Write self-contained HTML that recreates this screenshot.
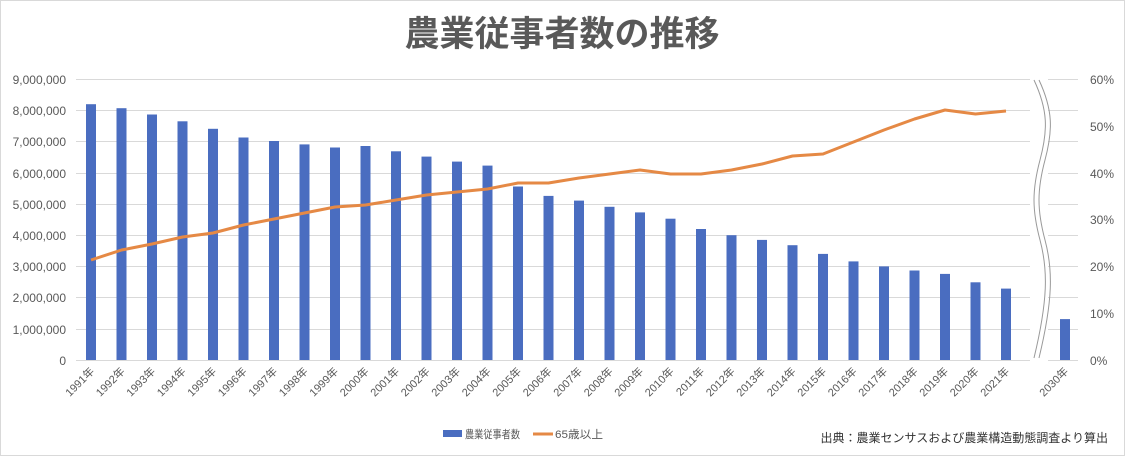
<!DOCTYPE html>
<html><head><meta charset="utf-8"><style>
body{margin:0;background:#fff}
svg{display:block;font-family:"Liberation Sans","Noto Sans CJK JP",sans-serif}
.ax{font-size:12px;fill:#595959}
.xl{font-size:11px;fill:#595959}
</style></head><body>
<svg width="1125" height="456" viewBox="0 0 1125 456">
<rect x="0.5" y="0.5" width="1124" height="455" fill="#fff" stroke="#d9d9d9"/>
<text x="562" y="46" text-anchor="middle" font-size="35" font-weight="bold" fill="#595959" font-family="'Noto Sans CJK JP',sans-serif">農業従事者数の推移</text>
<g stroke="#d9d9d9" stroke-width="1">
<line x1="76" x2="1078" y1="79.5" y2="79.5"/><line x1="76" x2="1078" y1="110.5" y2="110.5"/><line x1="76" x2="1078" y1="141.5" y2="141.5"/><line x1="76" x2="1078" y1="173.5" y2="173.5"/><line x1="76" x2="1078" y1="204.5" y2="204.5"/><line x1="76" x2="1078" y1="235.5" y2="235.5"/><line x1="76" x2="1078" y1="266.5" y2="266.5"/><line x1="76" x2="1078" y1="297.5" y2="297.5"/><line x1="76" x2="1078" y1="329.5" y2="329.5"/><line x1="76" x2="1078" y1="360.5" y2="360.5"/>
</g>
<g class="ax" text-anchor="end">
<text x="66" y="84">9,000,000</text><text x="66" y="115">8,000,000</text><text x="66" y="146">7,000,000</text><text x="66" y="178">6,000,000</text><text x="66" y="209">5,000,000</text><text x="66" y="240">4,000,000</text><text x="66" y="271">3,000,000</text><text x="66" y="302">2,000,000</text><text x="66" y="334">1,000,000</text><text x="66" y="365">0</text>
</g>
<g class="ax">
<text x="1090" y="84">60%</text><text x="1090" y="131">50%</text><text x="1090" y="178">40%</text><text x="1090" y="224">30%</text><text x="1090" y="271">20%</text><text x="1090" y="318">10%</text><text x="1090" y="365">0%</text>
</g>
<g fill="#4a6dc0">
<rect x="86" y="104.2" width="10" height="255.8"/>
<rect x="116.5" y="108.2" width="10" height="251.8"/>
<rect x="147" y="114.5" width="10" height="245.5"/>
<rect x="177.5" y="121.3" width="10" height="238.7"/>
<rect x="208" y="128.8" width="10" height="231.2"/>
<rect x="238.5" y="137.5" width="10" height="222.5"/>
<rect x="269" y="141" width="10" height="219"/>
<rect x="299.5" y="144.4" width="10" height="215.6"/>
<rect x="330" y="147.5" width="10" height="212.5"/>
<rect x="360.5" y="146" width="10" height="214"/>
<rect x="391" y="151.3" width="10" height="208.7"/>
<rect x="421.5" y="156.6" width="10" height="203.4"/>
<rect x="452" y="161.6" width="10" height="198.4"/>
<rect x="482.5" y="165.6" width="10" height="194.4"/>
<rect x="513" y="186.5" width="10" height="173.5"/>
<rect x="543.5" y="195.9" width="10" height="164.1"/>
<rect x="574" y="200.6" width="10" height="159.4"/>
<rect x="604.5" y="206.8" width="10" height="153.2"/>
<rect x="635" y="212.4" width="10" height="147.6"/>
<rect x="665.5" y="218.7" width="10" height="141.3"/>
<rect x="696" y="229" width="10" height="131"/>
<rect x="726.5" y="235.2" width="10" height="124.8"/>
<rect x="757" y="239.9" width="10" height="120.1"/>
<rect x="787.5" y="245.2" width="10" height="114.8"/>
<rect x="818" y="253.9" width="10" height="106.1"/>
<rect x="848.5" y="261.4" width="10" height="98.6"/>
<rect x="879" y="266.4" width="10" height="93.6"/>
<rect x="909.5" y="270.5" width="10" height="89.5"/>
<rect x="940" y="273.9" width="10" height="86.1"/>
<rect x="970.5" y="282.3" width="10" height="77.7"/>
<rect x="1001" y="288.6" width="10" height="71.4"/>
<rect x="1060" y="319.1" width="10" height="40.9"/>
</g>
<polyline fill="none" stroke="#e58945" stroke-width="3" stroke-linejoin="round" points="91,260 121.5,250 152,244 182.5,237 213,233 243.5,225 274,219 304.5,213 335,207 365.5,205 396,200 426.5,195 457,192 487.5,189 518,183 548.5,183 579,178 609.5,174 640,170 670.5,174 701,174 731.5,170 762,164 792.5,156 823,154 853.5,142 884,130 914.5,119 945,110 975.5,114 1006,111"/>
<rect x="1030" y="78" width="18" height="284" fill="#fff"/>
<path d="M1034,80 C1048,110 1048,130 1040,160 C1032,190 1032,210 1040,240 C1048,270 1048,300 1034,358" fill="none" stroke="#999" stroke-width="1"/>
<path d="M1039,80 C1053,110 1053,130 1045,160 C1037,190 1037,210 1045,240 C1053,270 1053,300 1039,358" fill="none" stroke="#999" stroke-width="1"/>
<g class="xl" text-anchor="end">
<text transform="translate(95,372) rotate(-45)">1991年</text>
<text transform="translate(125.5,372) rotate(-45)">1992年</text>
<text transform="translate(156,372) rotate(-45)">1993年</text>
<text transform="translate(186.5,372) rotate(-45)">1994年</text>
<text transform="translate(217,372) rotate(-45)">1995年</text>
<text transform="translate(247.5,372) rotate(-45)">1996年</text>
<text transform="translate(278,372) rotate(-45)">1997年</text>
<text transform="translate(308.5,372) rotate(-45)">1998年</text>
<text transform="translate(339,372) rotate(-45)">1999年</text>
<text transform="translate(369.5,372) rotate(-45)">2000年</text>
<text transform="translate(400,372) rotate(-45)">2001年</text>
<text transform="translate(430.5,372) rotate(-45)">2002年</text>
<text transform="translate(461,372) rotate(-45)">2003年</text>
<text transform="translate(491.5,372) rotate(-45)">2004年</text>
<text transform="translate(522,372) rotate(-45)">2005年</text>
<text transform="translate(552.5,372) rotate(-45)">2006年</text>
<text transform="translate(583,372) rotate(-45)">2007年</text>
<text transform="translate(613.5,372) rotate(-45)">2008年</text>
<text transform="translate(644,372) rotate(-45)">2009年</text>
<text transform="translate(674.5,372) rotate(-45)">2010年</text>
<text transform="translate(705,372) rotate(-45)">2011年</text>
<text transform="translate(735.5,372) rotate(-45)">2012年</text>
<text transform="translate(766,372) rotate(-45)">2013年</text>
<text transform="translate(796.5,372) rotate(-45)">2014年</text>
<text transform="translate(827,372) rotate(-45)">2015年</text>
<text transform="translate(857.5,372) rotate(-45)">2016年</text>
<text transform="translate(888,372) rotate(-45)">2017年</text>
<text transform="translate(918.5,372) rotate(-45)">2018年</text>
<text transform="translate(949,372) rotate(-45)">2019年</text>
<text transform="translate(979.5,372) rotate(-45)">2020年</text>
<text transform="translate(1010,372) rotate(-45)">2021年</text>
<text transform="translate(1069,372) rotate(-45)">2030年</text>
</g>
<rect x="443" y="430" width="19" height="7" fill="#4a6dc0"/>
<text x="465" y="438" font-size="11" fill="#595959" textLength="55" lengthAdjust="spacingAndGlyphs">農業従事者数</text>
<line x1="533" x2="553" y1="434" y2="434" stroke="#e58945" stroke-width="3"/>
<text x="555" y="438" font-size="11" fill="#595959" textLength="48" lengthAdjust="spacingAndGlyphs">65歳以上</text>
<text x="1108" y="442" font-size="12" fill="#333" text-anchor="end">出典：農業センサスおよび農業構造動態調査より算出</text>
</svg>
</body></html>
